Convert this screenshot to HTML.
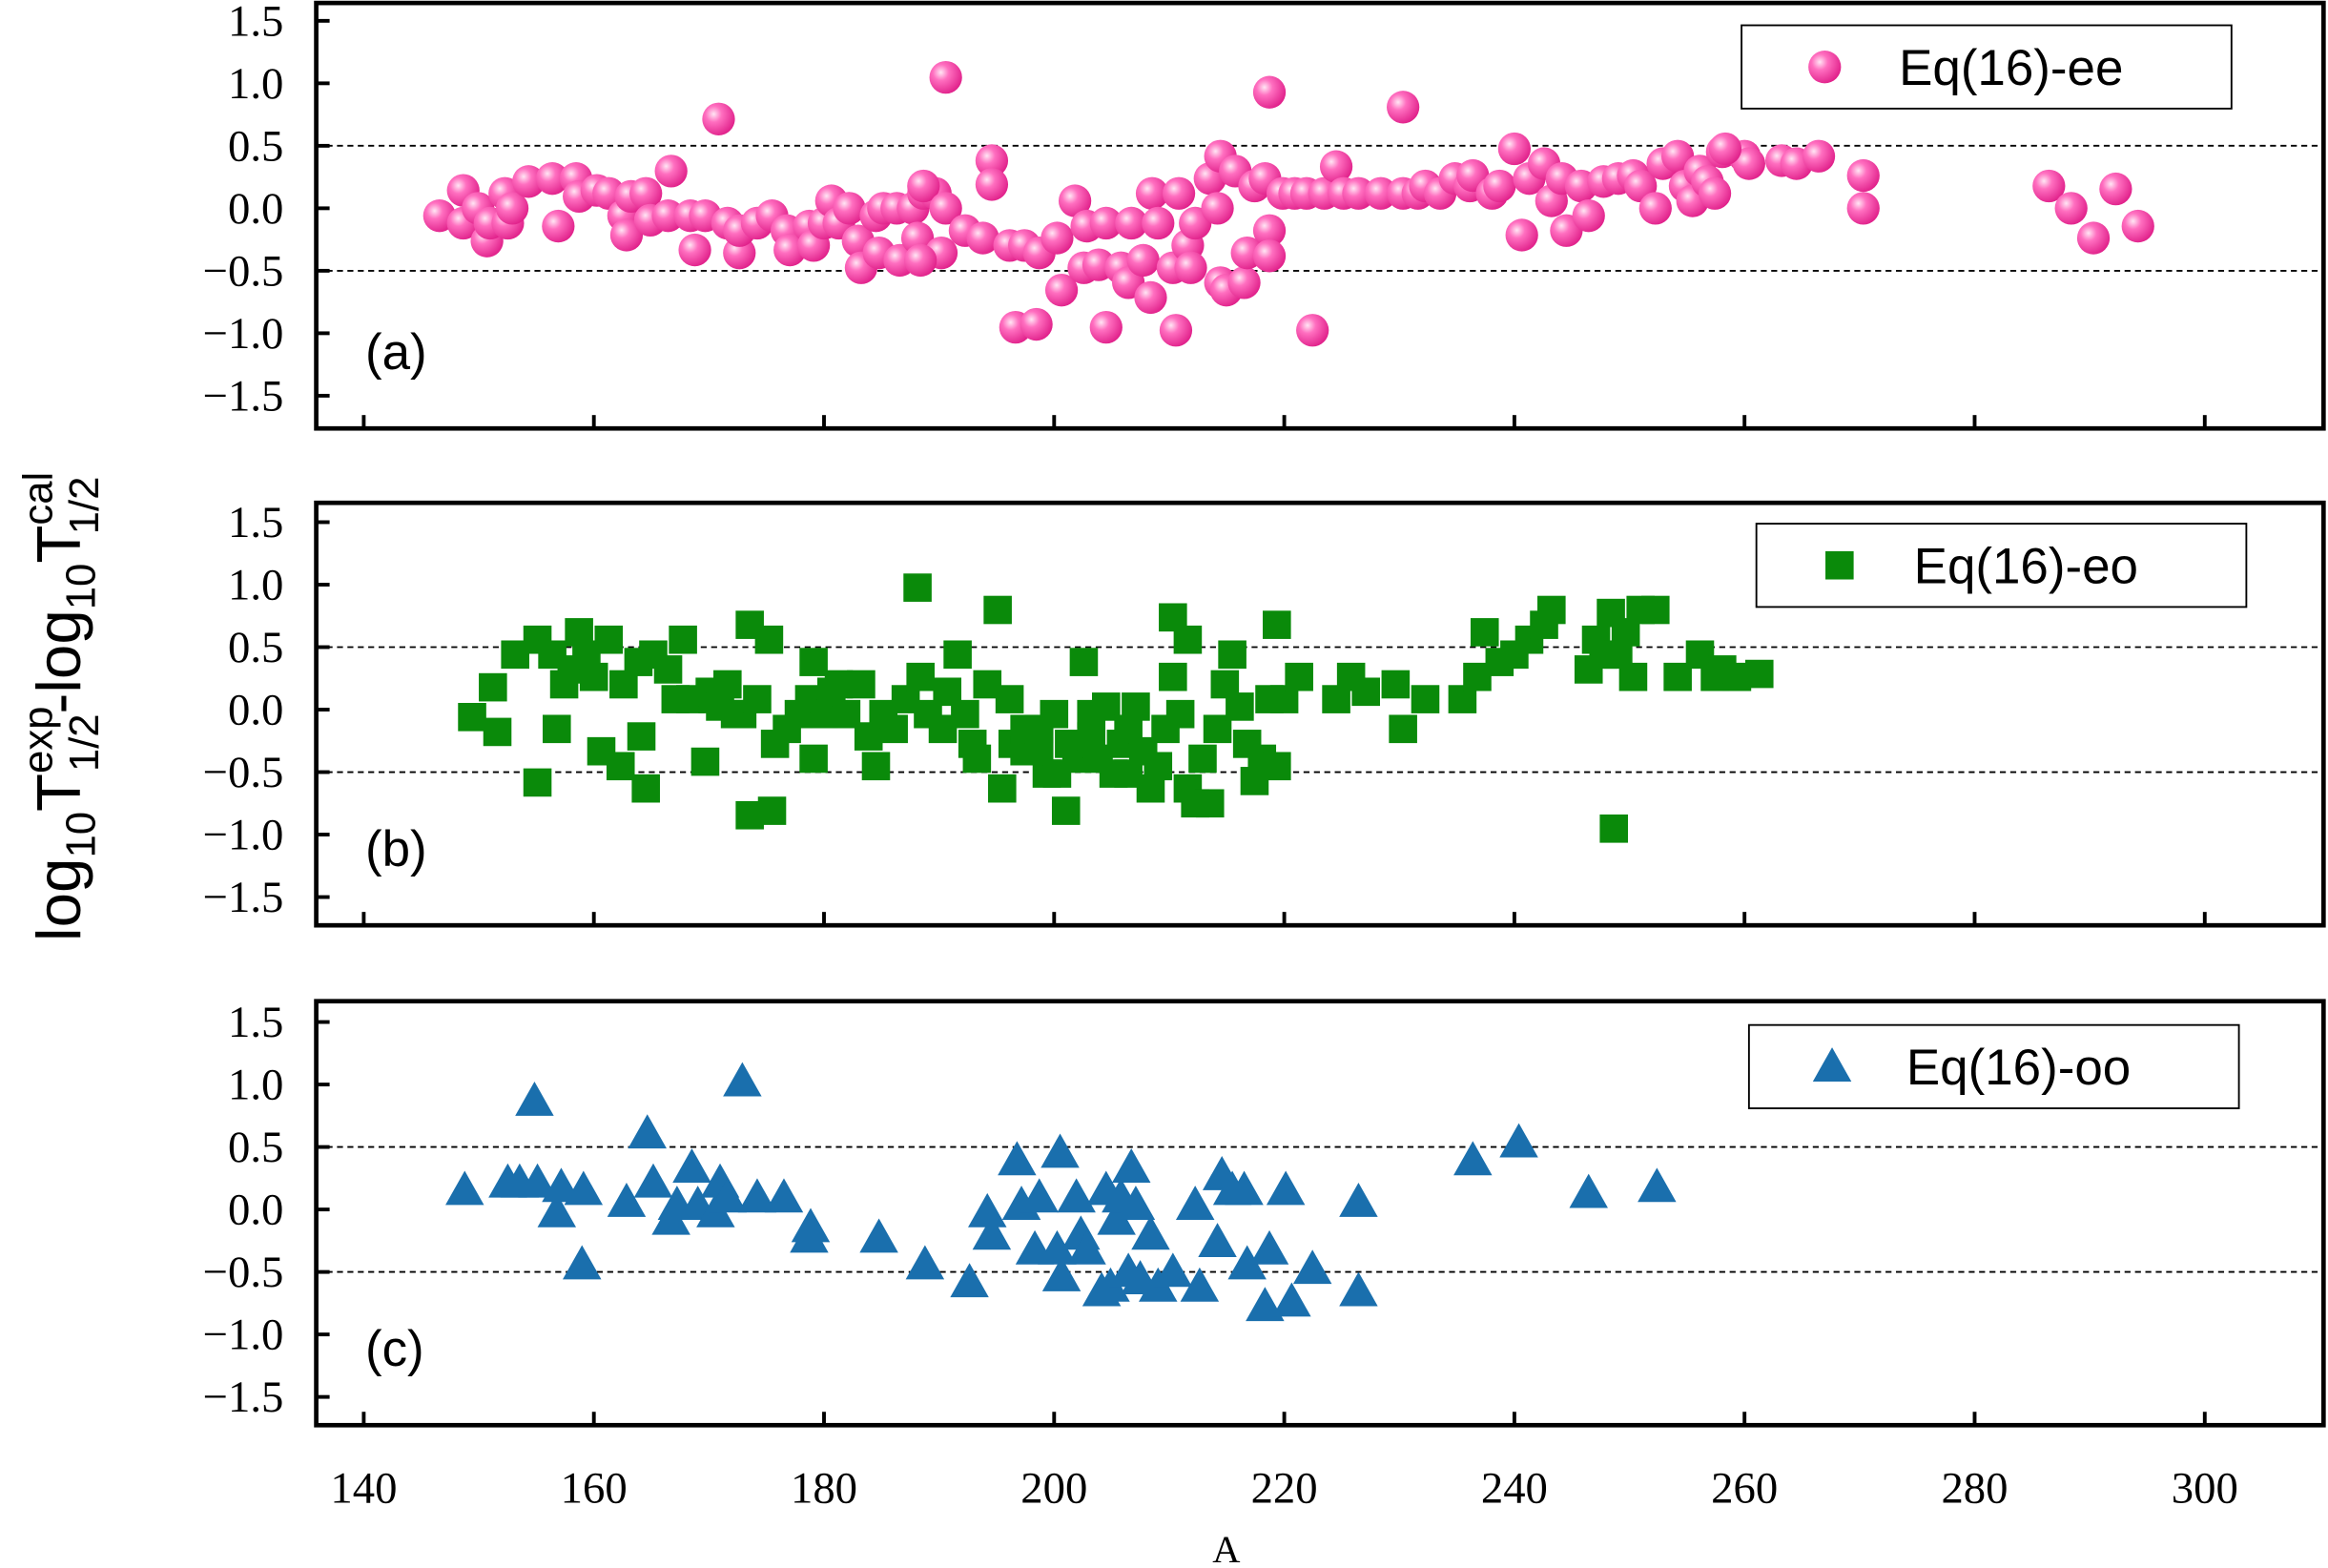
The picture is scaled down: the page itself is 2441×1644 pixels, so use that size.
<!DOCTYPE html>
<html><head><meta charset="utf-8"><style>html,body{margin:0;padding:0;background:#fff}svg{display:block}</style></head>
<body>
<svg id="s" xmlns="http://www.w3.org/2000/svg" width="2441" height="1644" viewBox="0 0 1568 1054" preserveAspectRatio="none">
<defs>
<radialGradient id="pg" cx="0.35" cy="0.35" r="0.7">
<stop offset="0" stop-color="#ffe6f4"/><stop offset="0.35" stop-color="#ff6fc0"/><stop offset="1" stop-color="#e0208a"/>
</radialGradient>
</defs>
<rect width="1568" height="1054" fill="#fff"/>
<g id="g"></g>
</svg>
<script>
const g=document.getElementById('g');let h='';
const X0=213,X1=1565;
const ax=a=>245+(a-140)*7.75;
const panels=[{top:2,bot:288,z:140,lab:'(a)'},{top:338,bot:622,z:477,lab:'(b)'},{top:673,bot:958,z:813,lab:'(c)'}];
panels.forEach(p=>{
  [0.5,-0.5].forEach(v=>{const y=p.z-v*84;h+=`<line x1="${X0}" x2="${X1}" y1="${y}" y2="${y}" stroke="#000" stroke-width="1.2" stroke-dasharray="4,3"/>`;});
  for(let v=-1.5;v<=1.51;v+=0.5){const y=p.z-v*84;
    h+=`<line x1="${X0}" x2="${X0+9}" y1="${y}" y2="${y}" stroke="#000" stroke-width="2.5"/>`;
    const t=(v<0?'−':'')+Math.abs(v).toFixed(1);
    h+=`<text x="191" y="${y+10}" text-anchor="end" font-family="Liberation Serif,serif" font-size="30">${t}</text>`;}
  for(let a=140;a<=300;a+=20){const x=ax(a);h+=`<line x1="${x}" x2="${x}" y1="${p.bot}" y2="${p.bot-9}" stroke="#000" stroke-width="2.5"/>`;}
  h+=`<text x="246" y="${p.bot-40}" font-family="Liberation Sans,sans-serif" font-size="34">${p.lab}</text>`;
});
const pa=[[296,145],[312,128],[312,150],[322,140],[328,162],[330,150],[340,130],[342,150],[345,140],[356,122],[372,120],[376,152],[388,120],[390,132],[402,128],[410,130],[420,145],[422,158],[425,132],[435,130],[438,148],[452,115],[450,145],[465,145],[468,168],[475,145],[490,150],[498,170],[498,155],[510,150],[520,145],[530,155],[532,168],[545,152],[548,165],[555,150],[560,135],[565,150],[572,140],[578,162],[580,180],[590,145],[595,140],[592,170],[604,140],[606,175],[615,140],[618,160],[622,130],[630,130],[634,170],[620,175],[622,125],[637,140],[650,155],[662,160],[668,108],[668,124],[680,165],[684,220],[698,218],[690,165],[700,170],[712,160],[715,195],[724,135],[730,180],[732,152],[740,178],[745,220],[745,150],[755,180],[760,190],[762,150],[770,175],[775,200],[776,130],[780,150],[790,180],[792,222],[794,130],[800,165],[802,180],[805,150],[815,120],[820,140],[822,190],[826,195],[822,105],[832,115],[838,190],[840,170],[845,125],[852,120],[855,155],[855,172],[855,62],[864,130],[872,130],[884,222],[880,130],[892,130],[900,112],[905,130],[915,130],[930,130],[945,72],[945,130],[955,130],[960,125],[970,130],[980,120],[990,125],[992,118],[1005,130],[1010,125],[1020,100],[1025,158],[1030,120],[1040,110],[1045,135],[1052,120],[1055,155],[1065,125],[1070,145],[1080,122],[1090,120],[1100,118],[1105,125],[1115,140],[1120,110],[1130,105],[1135,125],[1140,135],[1145,115],[1150,122],[1155,130],[1160,102],[1175,105],[1178,110],[1162,100],[1200,108],[1210,110],[1225,105],[1255,118],[1255,140],[1380,125],[1395,140],[1410,160],[1425,127],[1440,152],[637,52],[484,80]];
pa.forEach(([x,y])=>{h+=`<circle cx="${x}" cy="${y}" r="11" fill="url(#pg)"/>`;});
const pb=[[318,482],[332,462],[335,492],[347,440],[362,526],[362,430],[372,440],[375,490],[380,460],[385,450],[390,425],[395,440],[400,455],[405,505],[410,430],[418,515],[420,460],[430,445],[435,530],[432,495],[440,440],[450,450],[455,470],[460,430],[465,470],[475,512],[478,465],[480,470],[485,475],[490,460],[495,480],[500,480],[505,420],[505,548],[510,470],[518,430],[520,545],[522,500],[530,490],[538,480],[545,470],[548,510],[548,445],[555,480],[560,465],[565,460],[570,480],[580,460],[585,495],[590,515],[595,480],[602,490],[610,470],[618,395],[620,455],[625,480],[635,490],[638,465],[645,440],[650,480],[655,500],[658,510],[665,460],[672,410],[675,530],[680,470],[682,500],[690,505],[700,490],[705,520],[712,520],[718,545],[725,510],[730,445],[735,480],[740,510],[745,475],[750,520],[755,500],[760,520],[765,475],[770,505],[775,530],[780,515],[785,490],[790,415],[790,455],[795,480],[800,430],[800,530],[805,540],[810,510],[815,540],[820,490],[825,460],[830,440],[835,475],[840,500],[845,525],[850,510],[855,470],[860,420],[860,515],[865,470],[875,455],[900,470],[910,455],[920,465],[940,460],[945,490],[960,470],[985,470],[995,455],[1000,425],[1010,445],[1020,440],[1030,430],[1040,420],[1045,410],[1070,450],[1075,430],[1080,440],[1085,412],[1087,557],[1090,440],[1095,425],[1100,455],[1105,410],[1115,410],[1130,455],[1145,440],[1155,455],[1160,450],[1170,455],[1185,453],[700,505],[720,500],[735,495],[760,490],[710,480],[690,490]];
pb.forEach(([x,y])=>{h+=`<rect x="${x-9.5}" y="${y-9.5}" width="19" height="19" fill="#0a8a0a"/>`;});
const pc=[[313,800],[342,795],[350,795],[360,740],[362,795],[375,815],[378,798],[392,850],[393,800],[422,808],[436,762],[440,795],[452,820],[456,810],[466,785],[470,810],[482,815],[485,795],[490,805],[500,727],[510,805],[528,805],[546,825],[545,832],[592,832],[623,850],[653,862],[665,815],[668,830],[685,780],[688,810],[697,840],[700,805],[712,840],[714,775],[715,858],[725,805],[728,830],[732,840],[742,868],[745,800],[748,865],[752,820],[755,805],[760,855],[762,785],[765,810],[768,860],[775,830],[780,865],[790,855],[805,810],[808,865],[820,835],[823,790],[830,800],[838,800],[840,850],[852,878],[855,840],[866,800],[870,875],[884,853],[915,808],[915,868],[992,780],[1023,768],[1070,802],[1116,798]];
const tri=(x,y)=>`<polygon points="${x},${y-13} ${x-13},${y+10} ${x+13},${y+10}" fill="#1a6fad"/>`;
pc.forEach(([x,y])=>{h+=tri(x,y);});
panels.forEach(p=>{h+=`<rect x="${X0}" y="${p.top}" width="${X1-X0}" height="${p.bot-p.top}" fill="none" stroke="#000" stroke-width="3"/>`;});
const leg=[[1173,17,'ee'],[1183,352,'eo'],[1178,689,'oo']];
leg.forEach(([x,y,k],i)=>{h+=`<rect x="${x}" y="${y}" width="330" height="56" fill="#fff" stroke="#000" stroke-width="1.2"/>`;
  const cx=x+56,cy=y+28;
  if(i==0)h+=`<circle cx="${cx}" cy="${cy}" r="11" fill="url(#pg)"/>`;
  else if(i==1)h+=`<rect x="${cx-9.5}" y="${cy-9.5}" width="19" height="19" fill="#0a8a0a"/>`;
  else h+=tri(cx,cy);
  h+=`<text x="${x+106}" y="${cy+12}" font-family="Liberation Sans,sans-serif" font-size="34">Eq(16)-${k}</text>`;});
for(let a=140;a<=300;a+=20)h+=`<text x="${ax(a)}" y="1010" text-anchor="middle" font-family="Liberation Serif,serif" font-size="30">${a}</text>`;
h+=`<text x="826" y="1050" text-anchor="middle" font-family="Liberation Serif,serif" font-size="26">A</text>`;
h+=`<text transform="translate(54,475) rotate(-90)" text-anchor="middle" font-family="Liberation Sans,sans-serif" font-size="42">log<tspan font-size="28" dy="10">10</tspan><tspan dy="-10">T</tspan><tspan font-size="28" dy="-19">exp</tspan><tspan font-size="28" dx="-44" dy="31">1/2</tspan><tspan dy="-12">-log</tspan><tspan font-size="28" dy="10">10</tspan><tspan dy="-10">T</tspan><tspan font-size="28" dy="-19">cal</tspan><tspan font-size="28" dx="-42" dy="31">1/2</tspan></text>`;
g.innerHTML=h;
</script>
</body></html>
